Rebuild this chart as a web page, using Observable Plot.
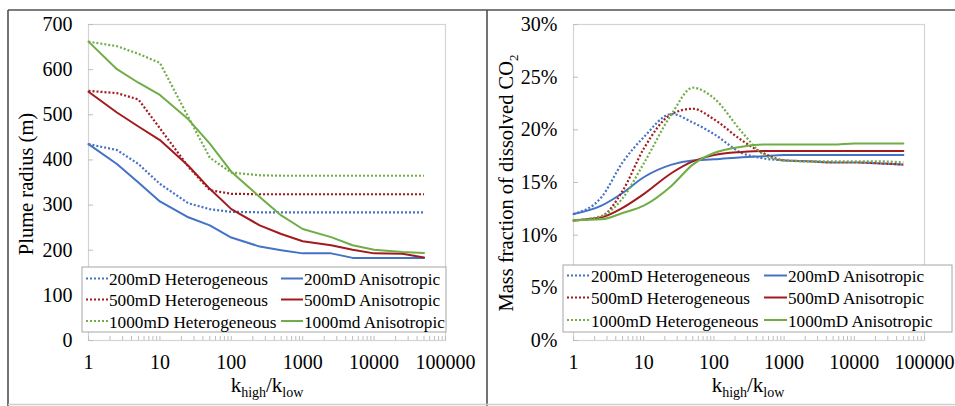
<!DOCTYPE html>
<html>
<head>
<meta charset="utf-8">
<script src="https://cdn.jsdelivr.net/npm/d3@7"></script>
<script src="https://cdn.jsdelivr.net/npm/@observablehq/plot@0.6"></script>
<style>
  html, body { margin: 0; padding: 0; background: #fff; }
  #wrap { position: relative; width: 955px; height: 406px; overflow: hidden; font-family: 'Liberation Serif', 'Times New Roman', serif; }
  .panel { position: absolute; top: 0; }
  #overlay { position: absolute; left: 0; top: 0; pointer-events: none; }
</style>
</head>
<body>
<div id="wrap">
  <div class="panel" id="left" style="left:0px"></div>
  <div class="panel" id="right" style="left:480px"></div>
  <svg id="overlay" width="955" height="406"></svg>
</div>
<script>
// ---------- data ----------
const kRatio = [1, 2.5, 5, 10, 25, 50, 100, 250, 500, 1000, 2500, 5000, 10000, 25000, 50000];

// Plume radius (m)
const radiusHet200    = [435, 422, 391, 347, 304, 291, 285, 284, 284, 284, 284, 284, 284, 284, 284];
const radiusAniso200  = [435, 391, 350, 308, 273, 255, 228, 208, 200, 193, 193, 183, 183, 183, 183];
const radiusHet500    = [553, 548, 534, 470, 385, 333, 325, 324, 324, 324, 324, 324, 324, 324, 324];
const radiusAniso500  = [551, 505, 474, 444, 387, 336, 291, 255, 236, 220, 211, 201, 193, 192, 184];
const radiusHet1000   = [662, 652, 635, 615, 495, 405, 372, 366, 365, 365, 365, 365, 365, 365, 365];
const radiusAniso1000 = [662, 601, 571, 544, 490, 436, 374, 318, 277, 247, 229, 211, 201, 196, 194];

// Mass fraction of dissolved CO2 (%)
const massHet200    = [12.0, 13.6, 16.9, 19.3, 21.5, 20.7, 19.6, 17.8, 17.3, 17.1, 17.0, 16.9, 16.9, 16.8, 16.7];
const massAniso200  = [12.0, 12.8, 14.0, 15.5, 16.7, 17.1, 17.2, 17.4, 17.5, 17.6, 17.6, 17.6, 17.6, 17.6, 17.6];
const massHet500    = [11.4, 11.8, 14.2, 18.2, 21.5, 22.0, 21.0, 19.0, 17.8, 17.1, 17.0, 16.9, 16.9, 16.8, 16.7];
const massAniso500  = [11.4, 11.7, 12.6, 13.9, 15.9, 17.0, 17.6, 17.9, 18.0, 18.0, 18.0, 18.0, 18.0, 18.0, 18.0];
const massHet1000   = [11.4, 11.8, 13.5, 16.8, 21.5, 24.0, 23.0, 19.8, 17.7, 17.1, 17.0, 17.0, 17.0, 17.0, 16.9];
const massAniso1000 = [11.4, 11.5, 12.1, 12.8, 14.7, 16.7, 17.8, 18.4, 18.6, 18.6, 18.6, 18.6, 18.7, 18.7, 18.7];

const xTickLabels = [1, 10, 100, 1000, 10000, 100000];
const yTicksLeft  = [0, 100, 200, 300, 400, 500, 600, 700];
const yTicksRight = [0, 5, 10, 15, 20, 25, 30];

const leftLegend  = ["200mD Heterogeneous", "200mD Anisotropic", "500mD Heterogeneous", "500mD Anisotropic", "1000mD Heterogeneous", "1000md Anisotropic"];
const rightLegend = ["200mD Heterogeneous", "200mD Anisotropic", "500mD Heterogeneous", "500mD Anisotropic", "1000mD Heterogeneous", "1000mD Anisotropic"];

// ---------- styling ----------
const FONT = "'Liberation Serif', 'Times New Roman', serif";
const BLUE = "#4472C4", RED = "#A31A1E", GREEN = "#70AD47";
const seriesStyle = [
  {color: BLUE,  dotted: true},
  {color: BLUE,  dotted: false},
  {color: RED,   dotted: true},
  {color: RED,   dotted: false},
  {color: GREEN, dotted: true},
  {color: GREEN, dotted: false}
];

const minorTicks = [];
for (let d = 1; d < 100000; d *= 10) for (let m = 1; m <= 9; m++) minorTicks.push(d * m);
minorTicks.push(100000);

function tidy(values) { return kRatio.map((k, i) => ({k, v: values[i]})); }

function lineMarks(seriesArrays, curve) {
  return seriesArrays.map((arr, i) => Plot.line(tidy(arr), {
    x: "k", y: "v",
    stroke: seriesStyle[i].color,
    strokeWidth: seriesStyle[i].dotted ? 2.2 : 2,
    strokeDasharray: seriesStyle[i].dotted ? "2,2" : null,
    strokeLinecap: seriesStyle[i].dotted ? "butt" : "round",
    curve
  }));
}

function panel({width, marginLeft, marginRight, yDomain, yTicks, yFormat, series, curve}) {
  return Plot.plot({
    width, height: 406,
    marginLeft, marginRight, marginTop: 24, marginBottom: 66,
    style: {fontFamily: FONT, fontSize: "20px", color: "#000", background: "none", overflow: "visible"},
    x: {type: "log", domain: [1, 100000]},
    y: {domain: yDomain},
    marks: [
      Plot.frame({stroke: "#d4d4d4", strokeWidth: 1.2}),
      Plot.axisY({ticks: yTicks, tickSize: 0, tickPadding: 16, tickFormat: yFormat, label: null, fontSize: 20, fill: "#000"}),
      Plot.axisY({ticks: yTicks, tickSize: 5, text: null, dx: 5, stroke: "#bdbdbd", label: null}),
      Plot.axisX({ticks: xTickLabels, tickSize: 0, tickPadding: 14, tickFormat: d => String(d), label: null, fontSize: 20, fill: "#000"}),
      Plot.axisX({ticks: minorTicks, tickSize: 4, text: null, dy: -4, stroke: "#bdbdbd", label: null}),
      ...lineMarks(series, curve)
    ]
  });
}

document.getElementById("left").append(panel({
  width: 480, marginLeft: 88, marginRight: 35,
  yDomain: [0, 700], yTicks: yTicksLeft, yFormat: d => String(d),
  series: [radiusHet200, radiusAniso200, radiusHet500, radiusAniso500, radiusHet1000, radiusAniso1000],
  curve: "linear"
}));

document.getElementById("right").append(panel({
  width: 475, marginLeft: 93, marginRight: 31,
  yDomain: [0, 30], yTicks: yTicksRight, yFormat: d => d + "%",
  series: [massHet200, massAniso200, massHet500, massAniso500, massHet1000, massAniso1000],
  curve: "monotone-x"
}));

// ---------- overlay: frame, titles, legends ----------
const svg = d3.select("#overlay").style("font-family", FONT);
const frameColor = "#505050";
svg.append("line").attr("x1", 8).attr("x2", 955).attr("y1", 10).attr("y2", 10).attr("stroke", frameColor).attr("stroke-width", 1.6);
svg.append("line").attr("x1", 8).attr("x2", 8).attr("y1", 10).attr("y2", 406).attr("stroke", frameColor).attr("stroke-width", 1.6);
svg.append("line").attr("x1", 487).attr("x2", 487).attr("y1", 10).attr("y2", 406).attr("stroke", frameColor).attr("stroke-width", 1.6);
svg.append("line").attr("x1", 8).attr("x2", 955).attr("y1", 404.5).attr("y2", 404.5).attr("stroke", "#cfcfcf").attr("stroke-width", 1.4);

// x titles
function xTitle(cx) {
  const t = svg.append("text").attr("x", cx).attr("y", 392).attr("text-anchor", "middle").attr("font-size", 21).attr("fill", "#000");
  t.append("tspan").text("k");
  t.append("tspan").attr("font-size", 14).attr("dy", 5).text("high");
  t.append("tspan").attr("dy", -5).text("/k");
  t.append("tspan").attr("font-size", 14).attr("dy", 5).text("low");
}
xTitle(267);
xTitle(748);

// y titles
svg.append("text").attr("transform", "translate(33,184) rotate(-90)").attr("text-anchor", "middle")
  .attr("font-size", 20.5).attr("fill", "#000").text("Plume radius (m)");
const yt = svg.append("text").attr("transform", "translate(513,183) rotate(-90)").attr("text-anchor", "middle")
  .attr("font-size", 20.5).attr("fill", "#000");
yt.append("tspan").text("Mass fraction of dissolved CO");
yt.append("tspan").attr("font-size", 13).attr("dy", 5).text("2");

// legends
function legend({x0, x1, y0, y1, baselines, col1, col2, labels}) {
  svg.append("rect").attr("x", x0).attr("y", y0).attr("width", x1 - x0).attr("height", y1 - y0)
    .attr("fill", "#fff").attr("stroke", "#a6a6a6").attr("stroke-width", 1);
  labels.forEach((lab, i) => {
    const row = Math.floor(i / 2), col = i % 2;
    const c = col === 0 ? col1 : col2;
    const by = baselines[row];
    const st = seriesStyle[i];
    svg.append("line").attr("x1", c.s0).attr("x2", c.s1).attr("y1", by - 6.5).attr("y2", by - 6.5)
      .attr("stroke", st.color).attr("stroke-width", 2)
      .attr("stroke-dasharray", st.dotted ? "2,2" : null);
    svg.append("text").attr("x", c.t).attr("y", by).attr("font-size", 17.2).attr("fill", "#000").text(lab);
  });
}
legend({x0: 82, x1: 446, y0: 267, y1: 332, baselines: [285, 306, 327.5],
  col1: {s0: 86, s1: 108, t: 109}, col2: {s0: 281, s1: 303, t: 304}, labels: leftLegend});
legend({x0: 563, x1: 952, y0: 265, y1: 332, baselines: [282, 304, 326.5],
  col1: {s0: 567, s1: 590, t: 591}, col2: {s0: 764, s1: 787, t: 788}, labels: rightLegend});
</script>
</body>
</html>
